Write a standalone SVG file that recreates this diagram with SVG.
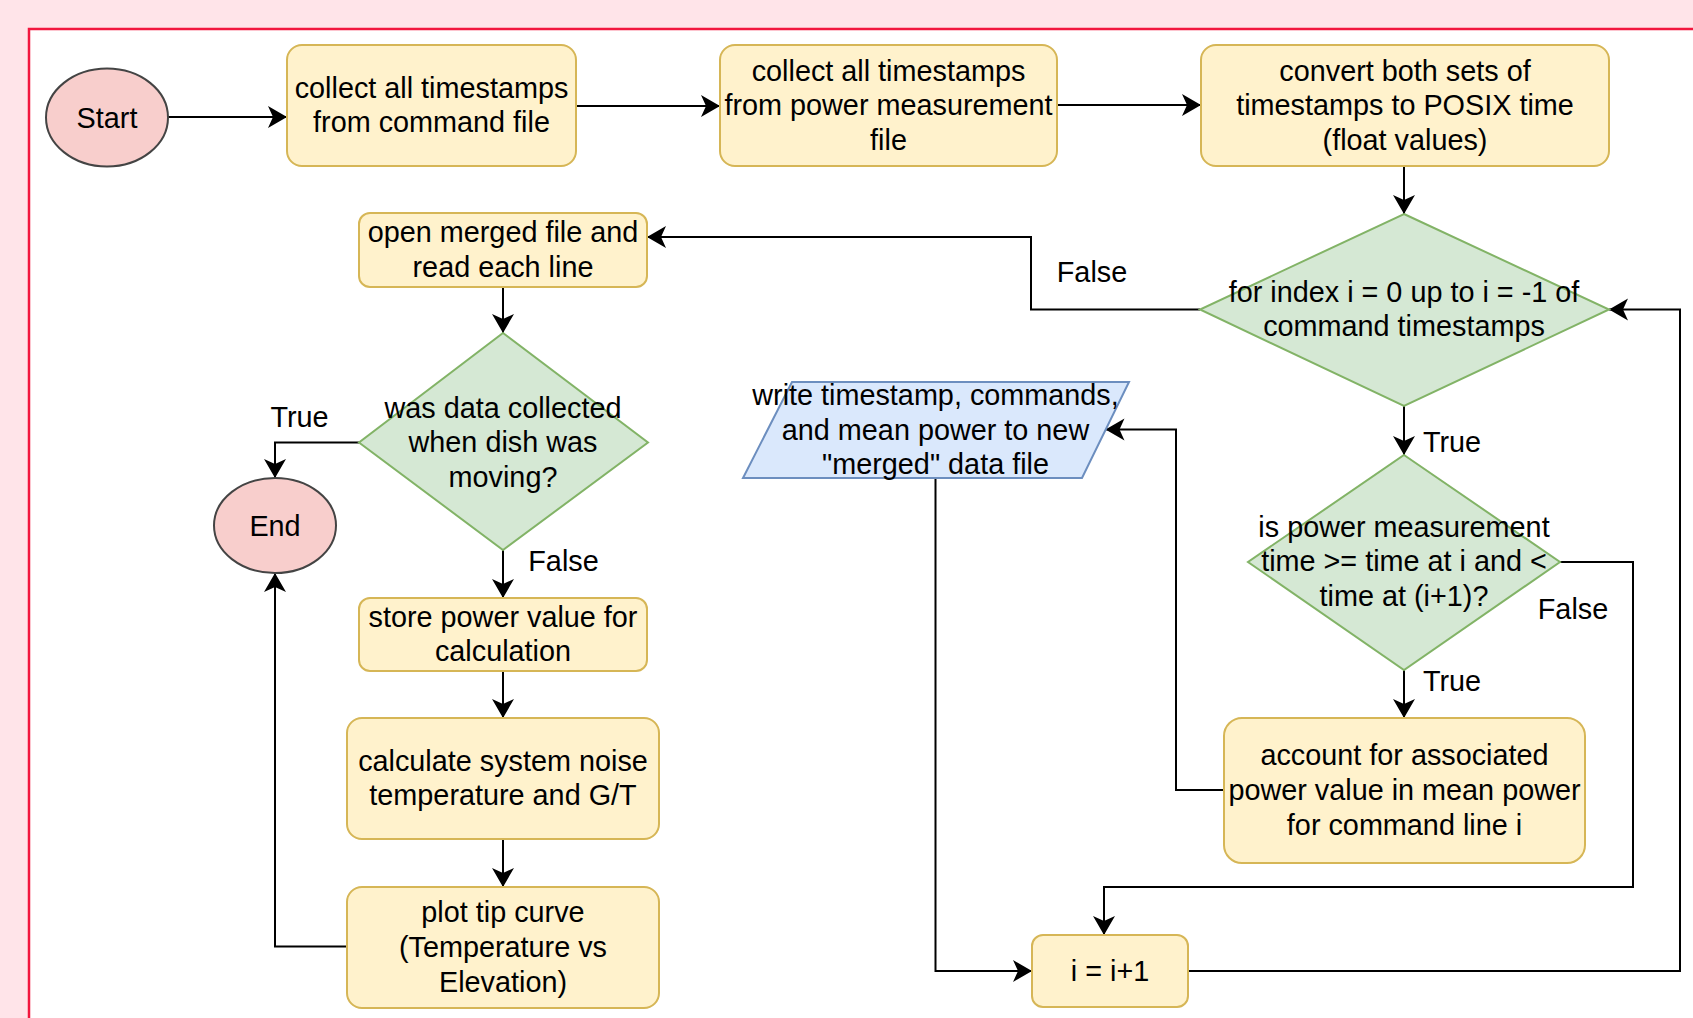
<svg xmlns="http://www.w3.org/2000/svg" width="1693" height="1018" viewBox="0 0 1693 1018">
<defs>
<style>
.box{fill:#FFF2CC;stroke:#D6B656;stroke-width:2}
.dia{fill:#D5E8D4;stroke:#82B366;stroke-width:2}
.term{fill:#F8CECC;stroke:#444444;stroke-width:2}
.io{fill:#DAE8FC;stroke:#6C8EBF;stroke-width:2}
.edge{fill:none;stroke:#000000;stroke-width:2;marker-end:url(#arr)}
text{font-family:"Liberation Sans",Arial,sans-serif;font-size:28.8px;fill:#000000;text-anchor:middle}
</style>
<marker id="arr" markerUnits="userSpaceOnUse" markerWidth="22" markerHeight="24" refX="19" refY="11" orient="auto" viewBox="0 0 22 22">
<path d="M0,0 L19,11 L0,22 L5,11 Z" fill="#000000"/>
</marker>
</defs>
<rect x="0" y="0" width="1693" height="1018" fill="#FFE4E9"/>
<rect x="29" y="29" width="1700" height="1100" fill="#FFFFFF" stroke="#F2163E" stroke-width="2.5"/>

<g id="connectors">
<path class="edge" d="M168,117 L287,117"/>
<path class="edge" d="M576,106 L720,106"/>
<path class="edge" d="M1057,105 L1201,105"/>
<path class="edge" d="M1404,166 L1404,214"/>
<path class="edge" d="M1200,309.5 L1031,309.5 L1031,237 L647,237"/>
<path class="edge" d="M503,287 L503,333"/>
<path class="edge" d="M359,442.5 L275,442.5 L275,478"/>
<path class="edge" d="M503,550 L503,598"/>
<path class="edge" d="M503,671 L503,718"/>
<path class="edge" d="M503,839 L503,887"/>
<path class="edge" d="M347,946.5 L275,946.5 L275,573"/>
<path class="edge" d="M1404,406 L1404,455"/>
<path class="edge" d="M1404,670 L1404,718"/>
<path class="edge" d="M1224,790 L1176,790 L1176,429.5 L1105.5,429.5"/>
<path class="edge" d="M1560,562 L1633,562 L1633,887 L1104,887 L1104,935"/>
<path class="edge" d="M935.5,478 L935.5,971 L1032,971"/>
<path class="edge" d="M1188,971 L1680,971 L1680,309.5 L1609,309.5"/>
<text x="1092" y="281.5">False</text>
<text x="299.5" y="426.5">True</text>
<text x="563.5" y="570.5">False</text>
<text x="1452" y="451.5">True</text>
<text x="1452" y="690.5">True</text>
<text x="1573" y="618.5">False</text>
</g>

<g id="start">
<ellipse class="term" cx="107" cy="117.5" rx="61" ry="49"/>
<text x="107" y="127.5">Start</text>
</g>

<g id="collect-command">
<rect class="box" x="287" y="45" width="289" height="121" rx="15" ry="15"/>
<text x="431.5" y="97.7">collect all timestamps</text>
<text x="431.5" y="132.3">from command file</text>
</g>

<g id="collect-power">
<rect class="box" x="720" y="45" width="337" height="121" rx="15" ry="15"/>
<text x="888.5" y="80.5">collect all timestamps</text>
<text x="888.5" y="115">from power measurement</text>
<text x="888.5" y="149.6">file</text>
</g>

<g id="convert">
<rect class="box" x="1201" y="45" width="408" height="121" rx="15" ry="15"/>
<text x="1405" y="80.5">convert both sets of</text>
<text x="1405" y="115">timestamps to POSIX time</text>
<text x="1405" y="149.6">(float values)</text>
</g>

<g id="for-index">
<polygon class="dia" points="1404,214 1609,309.5 1404,406 1200,309.5"/>
<text x="1404" y="301.7">for index i = 0 up to i = -1 of</text>
<text x="1404" y="336.3">command timestamps</text>
</g>

<g id="open-merged">
<rect class="box" x="359" y="213" width="288" height="74" rx="11" ry="11"/>
<text x="503" y="242.2">open merged file and</text>
<text x="503" y="276.8">read each line</text>
</g>

<g id="dish-moving">
<polygon class="dia" points="503,333 648,442.5 503,550 359,442.5"/>
<text x="503" y="417.5">was data collected</text>
<text x="503" y="452">when dish was</text>
<text x="503" y="486.6">moving?</text>
</g>

<g id="end">
<ellipse class="term" cx="275" cy="525.5" rx="61" ry="47.5"/>
<text x="275" y="535.5">End</text>
</g>

<g id="store-power">
<rect class="box" x="359" y="598" width="288" height="73" rx="11" ry="11"/>
<text x="503" y="626.7">store power value for</text>
<text x="503" y="661.3">calculation</text>
</g>

<g id="calculate">
<rect class="box" x="347" y="718" width="312" height="121" rx="15" ry="15"/>
<text x="503" y="770.7">calculate system noise</text>
<text x="503" y="805.3">temperature and G/T</text>
</g>

<g id="plot">
<rect class="box" x="347" y="887" width="312" height="121" rx="15" ry="15"/>
<text x="503" y="922.4">plot tip curve</text>
<text x="503" y="957">(Temperature vs</text>
<text x="503" y="991.6">Elevation)</text>
</g>

<g id="write-merged">
<polygon class="io" points="792,382 1129,382 1082,478 743,478"/>
<text x="935.5" y="405">write timestamp, commands,</text>
<text x="935.5" y="439.5">and mean power to new</text>
<text x="935.5" y="474">"merged" data file</text>
</g>

<g id="power-time-check">
<polygon class="dia" points="1404,455 1560,562 1404,670 1248,562"/>
<text x="1404" y="536.5">is power measurement</text>
<text x="1404" y="571">time &gt;= time at i and &lt;</text>
<text x="1404" y="605.6">time at (i+1)?</text>
</g>

<g id="account">
<rect class="box" x="1224" y="718" width="361" height="145" rx="18" ry="18"/>
<text x="1404.5" y="765.4">account for associated</text>
<text x="1404.5" y="800">power value in mean power</text>
<text x="1404.5" y="834.6">for command line i</text>
</g>

<g id="increment">
<rect class="box" x="1032" y="935" width="156" height="72" rx="11" ry="11"/>
<text x="1110" y="981">i = i+1</text>
</g>
</svg>
